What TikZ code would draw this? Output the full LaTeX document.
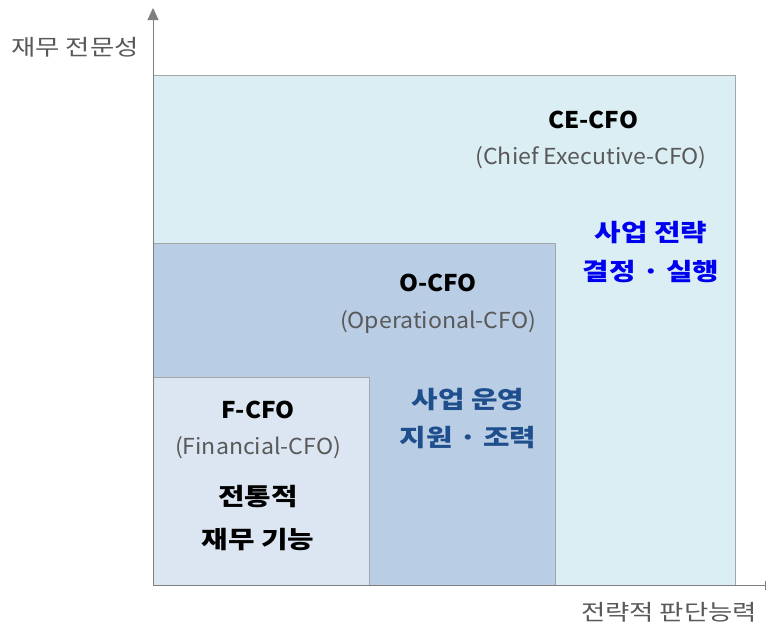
\documentclass[tikz,border=0pt]{standalone}
\usepackage{fontspec}
\setmainfont{Noto Sans CJK KR}
\newfontfamily\krwide[FakeStretch=1.2]{Noto Sans CJK KR}
\newfontfamily\latwide[FakeStretch=1.05]{Noto Sans CJK KR}
\usetikzlibrary{arrows.meta}
\definecolor{cefill}{HTML}{DAEEF3}
\definecolor{ofill}{HTML}{B9CDE5}
\definecolor{ffill}{HTML}{DCE6F2}
\definecolor{edge}{HTML}{A6A6A6}
\definecolor{axisc}{HTML}{7F7F7F}
\definecolor{graytxt}{HTML}{595959}
\definecolor{brightblue}{HTML}{0000F0}
\definecolor{darkblue}{HTML}{1F4E8C}
\tikzset{
  box/.style={draw=edge, line width=0.9pt},
  axisline/.style={draw=axisc, line width=1pt},
  title/.style={font=\latwide\fontsize{23}{26}\selectfont\bfseries, text=black, inner sep=0pt},
  sub/.style={font=\latwide\fontsize{22}{26}\selectfont, text=graytxt, inner sep=0pt},
  kblue/.style={font=\krwide\fontsize{24}{28}\selectfont\bfseries, text=brightblue, inner sep=0pt},
  kdark/.style={font=\krwide\fontsize{24}{28}\selectfont\bfseries, text=darkblue, inner sep=0pt},
  kblack/.style={font=\krwide\fontsize{24}{28}\selectfont\bfseries, text=black, inner sep=0pt},
  axlabel/.style={font=\krwide\fontsize{22}{26}\selectfont, text=graytxt, inner sep=0pt},
}
\begin{document}
\begin{tikzpicture}[x=1pt,y=-1pt]
\useasboundingbox (0,0) rectangle (768,630);
% boxes
\fill[cefill] (153,75) rectangle (735,585);
\draw[box] (153,75) -- (735,75) -- (735,585);
\fill[ofill] (153,243) rectangle (555,585);
\draw[box] (153,243) -- (555,243) -- (555,585);
\fill[ffill] (153,377) rectangle (369,585);
\draw[box] (153,377) -- (369,377) -- (369,585);
% axes
\coordinate (origin) at (153,585);
\coordinate (ytip) at (153,8);
\coordinate (xend) at (766,585);
\draw[axisline, -{Triangle[width=11pt,length=12pt]}, axisc] (origin) -- (ytip);
\draw[axisline, -{Bar[width=9pt]}] (origin) -- (xend);
\node[axlabel] (ylab) at (75,47) {재무 전문성};
\node[axlabel] (xlab) at (669,612) {전략적 판단능력};
% CE-CFO
\node[title] (ce) at (593,120) {CE-CFO};
\node[sub] (cesub) at (591,158) {(Chief Executive-CFO)};
\node[kblue] (ce1) at (651,233) {사업 전략};
\node[kblue] (ce2) at (651,272) {결정 · 실행};
% O-CFO
\node[title] (o) at (438,283) {O-CFO};
\node[sub] (osub) at (438,322) {(Operational-CFO)};
\node[kdark] (o1) at (468,400) {사업 운영};
\node[kdark] (o2) at (468,438) {지원 · 조력};
% F-CFO
\node[title] (f) at (258,410) {F-CFO};
\node[sub] (fsub) at (258,448) {(Financial-CFO)};
\node[kblack] (f1) at (258,497) {전통적};
\node[kblack] (f2) at (258,540) {재무 기능};
\end{tikzpicture}
\end{document}
